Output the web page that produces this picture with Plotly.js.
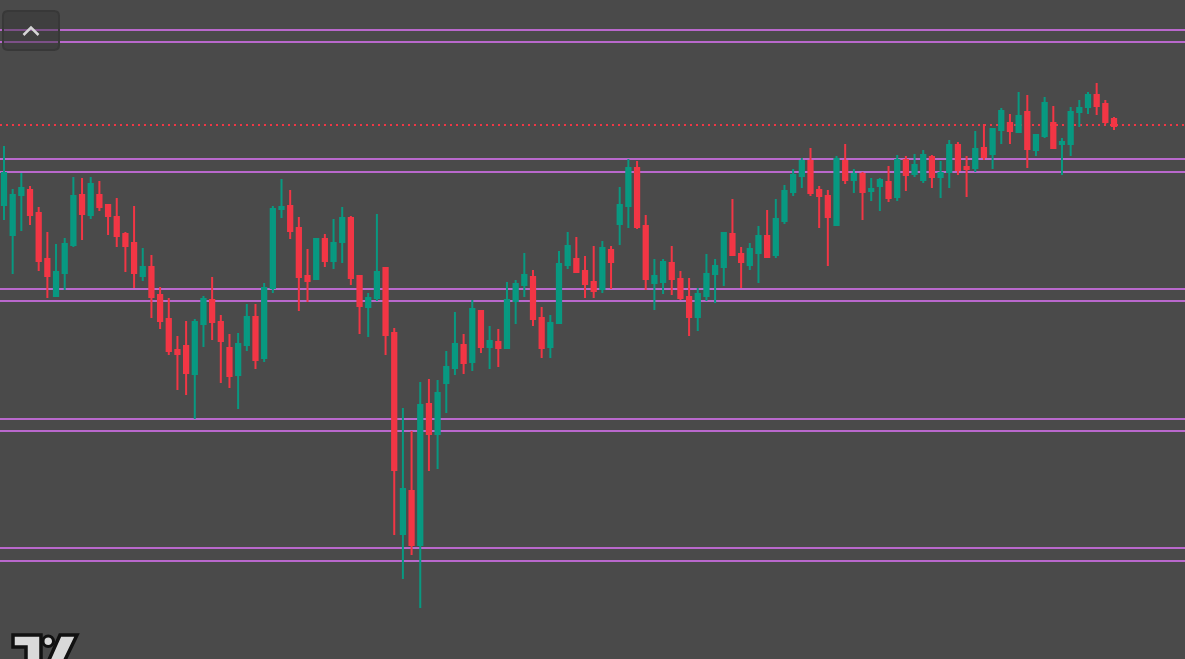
<!DOCTYPE html>
<html>
<head>
<meta charset="utf-8">
<script src="https://cdn.plot.ly/plotly-3.0.1.min.js"></script>
<style>html,body{margin:0;padding:0;background:#4a4a4a;overflow:hidden}#chart{width:1185px;height:659px}</style>
</head>
<body>
<div id="chart"></div>
<script>
// OHLC values (arbitrary price units), one entry per bar
const opens  = [455,425,465,470,447,401,364,387,415,465,445,465,455,443,426,417,384,393,365,341,310,314,286,336,360,338,312,285,315,343,302,372,451,454,432,384,381,421,399,418,442,384,353,362,392,327,126,169,115,256,226,277,292,315,298,349,313,318,312,359,375,383,342,313,337,395,401,389,378,371,410,436,454,492,434,377,378,397,381,363,343,364,386,393,426,406,395,407,424,405,439,468,484,499,470,464,435,499,480,486,469,474,478,463,500,486,480,503,483,488,515,493,492,512,506,530,537,528,548,510,524,537,516,516,548,553,565,556,541];
const highs  = [514,471,487,474,453,428,416,422,483,482,483,479,455,462,428,454,412,405,373,362,324,339,341,364,383,345,326,327,356,356,377,454,481,470,443,411,422,426,441,453,444,385,367,446,392,332,252,229,278,281,280,309,348,326,360,350,334,331,378,380,407,390,353,345,409,428,423,404,414,419,414,473,501,499,445,401,401,414,389,382,372,406,401,428,461,413,417,434,450,461,475,491,502,512,474,470,504,516,491,488,482,482,494,505,504,506,510,505,499,520,518,504,529,536,532,552,546,568,565,526,563,554,522,553,560,568,577,560,543];
const lows   = [440,386,429,435,389,362,364,370,413,420,441,449,425,413,388,372,379,342,331,305,270,265,241,313,320,277,272,251,309,291,298,367,442,421,349,358,380,393,391,397,375,326,323,359,305,125,81,105,52,189,191,247,285,286,289,307,291,293,312,336,363,334,302,302,336,391,387,362,362,367,371,415,432,431,370,350,366,365,360,324,329,359,357,374,404,372,390,377,403,402,436,464,472,464,432,394,435,476,467,440,459,449,458,459,469,483,477,472,462,472,485,463,488,500,491,516,516,528,492,504,522,512,485,504,533,546,545,536,530];
const closes = [487,465,472,445,399,384,388,416,464,446,476,453,444,424,414,387,393,363,339,309,306,287,338,361,338,319,284,316,343,300,372,451,453,429,383,379,421,399,417,442,382,354,362,388,325,190,171,115,255,226,267,293,316,297,351,313,319,312,360,376,385,341,312,337,396,414,388,376,369,412,398,455,492,433,381,384,398,381,362,343,366,386,394,427,405,398,411,424,403,441,469,485,499,467,464,443,501,480,486,468,471,480,462,500,485,495,505,483,487,515,490,491,511,503,531,549,529,544,511,525,557,512,518,548,552,565,554,538,534];
// horizontal level pairs
const levels = [630,618,501,488,371,359,241,229,112,99];

const bars = opens.map((_, i) => i);
const lastClose = closes[closes.length - 1];

const W = 1185, H = 659;
const px = (x) => (x / W).toFixed(5);
const py = (y) => (1 - y / H).toFixed(5);
function poly(pts) {
  return 'M' + pts.map(p => px(p[0]) + ',' + py(p[1])).join(' L') + ' Z';
}

const trace = {
  type: 'candlestick',
  x: bars, open: opens, high: highs, low: lows, close: closes,
  increasing: {line: {color: '#089981', width: 2}, fillcolor: '#089981'},
  decreasing: {line: {color: '#f23645', width: 2}, fillcolor: '#f23645'},
  whiskerwidth: 0,
  hoverinfo: 'skip'
};

const shapes = [];
levels.forEach(v => shapes.push({
  type: 'line', xref: 'paper', yref: 'y', x0: 0, x1: 1, y0: v, y1: v,
  line: {color: '#b968cc', width: 2}, layer: 'below'
}));
shapes.push({
  type: 'line', xref: 'paper', yref: 'y', x0: 0, x1: 1, y0: lastClose + 1, y1: lastClose + 1,
  line: {color: '#f23645', width: 2, dash: '2px,4px'}, layer: 'below'
});
// collapse button (top-left)
shapes.push({
  type: 'path', xref: 'paper', yref: 'paper',
  path: 'M' + px(8) + ',' + py(11) + ' L' + px(54) + ',' + py(11) +
        ' Q' + px(59) + ',' + py(11) + ' ' + px(59) + ',' + py(16) +
        ' L' + px(59) + ',' + py(45) + ' Q' + px(59) + ',' + py(50) + ' ' + px(54) + ',' + py(50) +
        ' L' + px(8) + ',' + py(50) + ' Q' + px(3) + ',' + py(50) + ' ' + px(3) + ',' + py(45) +
        ' L' + px(3) + ',' + py(16) + ' Q' + px(3) + ',' + py(11) + ' ' + px(8) + ',' + py(11) + ' Z',
  fillcolor: 'rgba(50,50,50,0.45)', line: {color: '#383838', width: 2}, layer: 'above'
});
shapes.push({
  type: 'path', xref: 'paper', yref: 'paper',
  path: 'M' + px(23.5) + ',' + py(35) + ' L' + px(31) + ',' + py(27.5) + ' L' + px(38.5) + ',' + py(35),
  line: {color: '#d6d6d6', width: 2.5}, layer: 'above'
});
// logo (bottom-left)
shapes.push({
  type: 'path', xref: 'paper', yref: 'paper',
  path: poly([[13,635],[41,635],[41,662],[26,662],[26,647],[13,647]]),
  fillcolor: '#d9d9d9', line: {color: '#111111', width: 3.5}, layer: 'above'
});
shapes.push({
  type: 'circle', xref: 'paper', yref: 'paper',
  x0: px(43), x1: px(53.5), y0: py(646.5), y1: py(636),
  fillcolor: '#d9d9d9', line: {color: '#111111', width: 3}, layer: 'above'
});
shapes.push({
  type: 'path', xref: 'paper', yref: 'paper',
  path: poly([[60,635],[77,635],[64,662],[48,662]]),
  fillcolor: '#d9d9d9', line: {color: '#111111', width: 3.5}, layer: 'above'
});

const sp = 8.672;
const layout = {
  width: W, height: H,
  margin: {l: 0, r: 0, t: 0, b: 0, pad: 0},
  paper_bgcolor: '#4a4a4a', plot_bgcolor: '#4a4a4a',
  showlegend: false,
  xaxis: {range: [-4 / sp, (W - 4) / sp], visible: false, showgrid: false, zeroline: false,
          rangeslider: {visible: false}, fixedrange: true},
  yaxis: {range: [1, 660], visible: false, showgrid: false, zeroline: false, fixedrange: true},
  shapes: shapes,
  hovermode: false
};

Plotly.newPlot('chart', [trace], layout, {displayModeBar: false, staticPlot: true});
</script>
</body>
</html>
